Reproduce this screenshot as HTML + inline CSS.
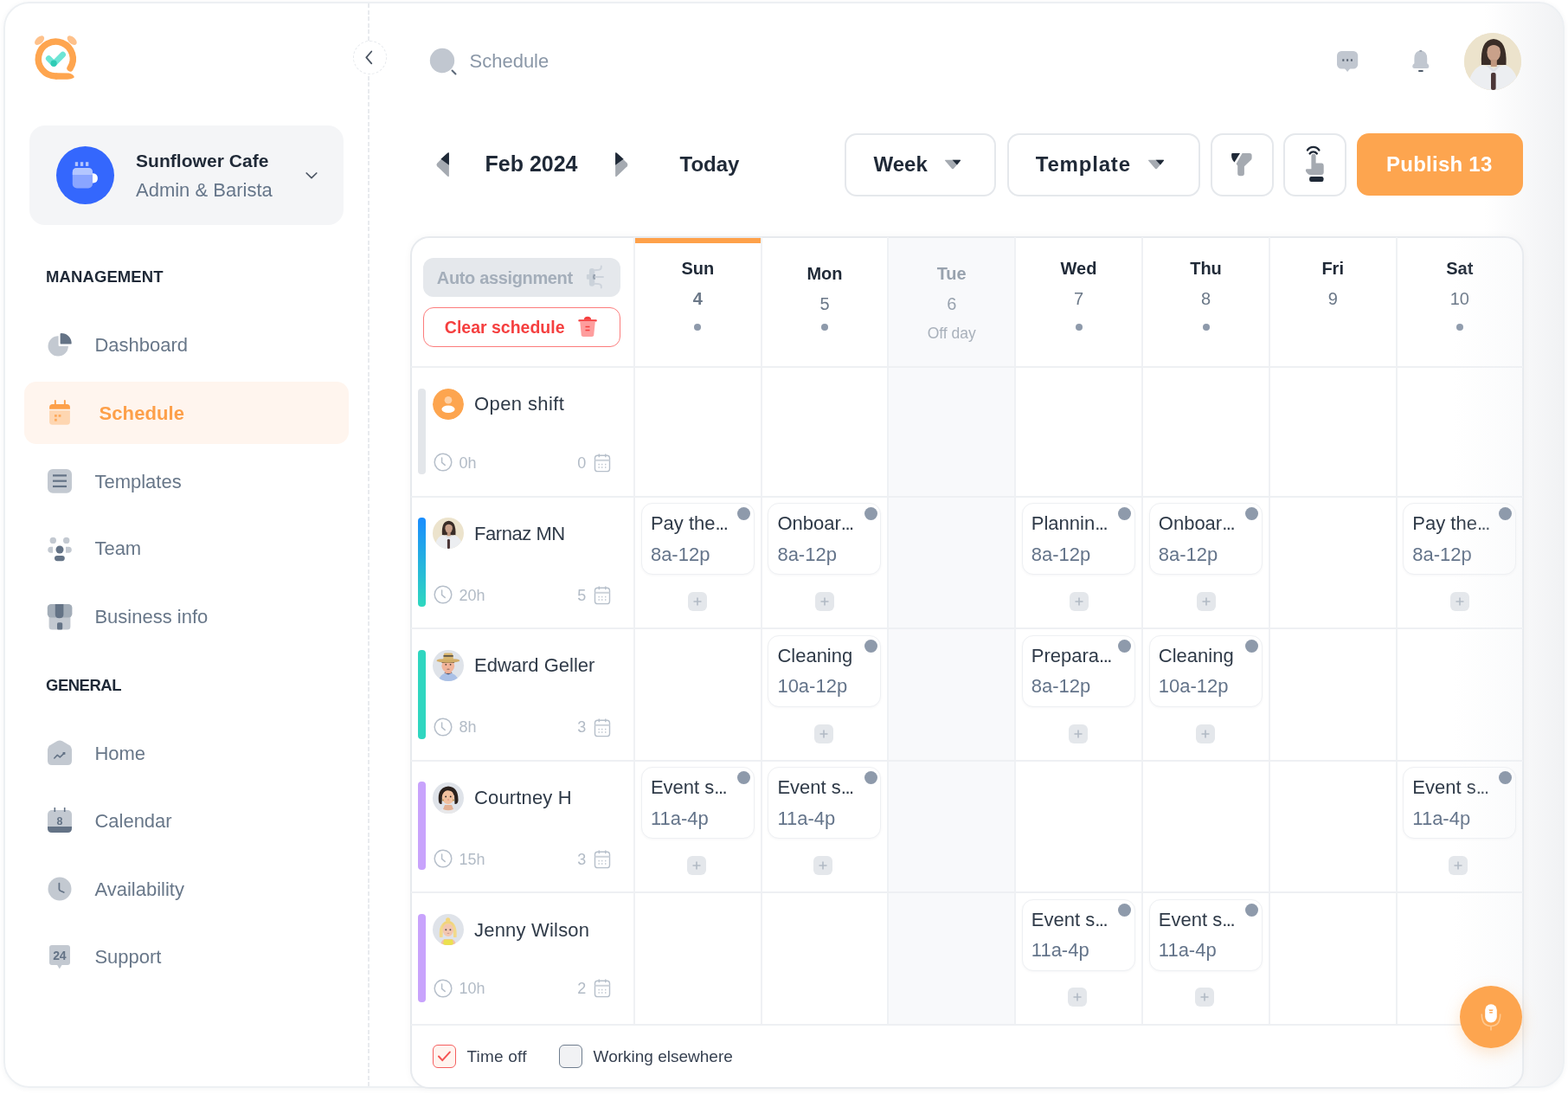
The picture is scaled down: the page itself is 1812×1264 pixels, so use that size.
<!DOCTYPE html>
<html><head><meta charset="utf-8"><title>Schedule</title>
<style>
html,body{margin:0;padding:0}
body{width:1812px;height:1264px;position:relative;overflow:hidden;background:#fff;font-family:"Liberation Sans",sans-serif}
.a{position:absolute}
.t{position:absolute;white-space:nowrap;line-height:1}
.el{letter-spacing:-1.5px}
.frame{position:absolute;left:4px;top:2px;width:1804px;height:1255px;box-sizing:border-box;border:2px solid #edf0f3;border-radius:30px;
background:linear-gradient(90deg,#ffffff 0,#ffffff 1709px,#f1f2f4 1799px);box-shadow:0 1px 6px rgba(40,50,70,0.05)}
svg{overflow:visible}
</style></head><body>
<div class="frame"></div>
<div class="a" style="left:425.2px;top:4px;width:1.8px;height:1252px;background:repeating-linear-gradient(to bottom,#e8ebee 0,#e8ebee 5px,transparent 5px,transparent 7.6px)"></div>
<div class="a" style="left:407.5px;top:47px;width:37px;height:37px;border-radius:50%;border:1px dashed #e6e9ed;background:#fff"></div>
<svg class="a" style="left:420px;top:58px" width="14" height="18" viewBox="0 0 14 18"><path d="M9.3 1.5 L3.3 8.3 L9.3 15.3" fill="none" stroke="#4b5563" stroke-width="1.8" stroke-linecap="round" stroke-linejoin="round"/></svg>
<svg class="a" style="left:36px;top:36px" width="60" height="60" viewBox="0 0 60 60">
<g transform="translate(-36,-36)">
<ellipse cx="45.6" cy="46.6" rx="6.6" ry="3.9" transform="rotate(-42 45.6 46.6)" fill="#fec18b"/>
<ellipse cx="83.2" cy="46.6" rx="6.6" ry="3.9" transform="rotate(42 83.2 46.6)" fill="#fec18b"/>
<path d="M81.07 78.9 A20 20 0 1 0 64.3 88" fill="none" stroke="#fea54f" stroke-width="7.5" stroke-linecap="round"/>
<path d="M64.3 84.25 L79.5 84.4 Q83.5 84.8 85.6 88.2 Q86.2 89.6 84.6 90.3 Q82 91.75 78 91.75 L64.3 91.75 Z" fill="#fea54f"/>
<path d="M56.3 67.6 L62.2 73.6 L72.6 63.2" fill="none" stroke="#6de5d5" stroke-width="6.8" stroke-linecap="round" stroke-linejoin="round"/>
<circle cx="62.1" cy="73.2" r="3.6" fill="#2fcbb4"/>
</g></svg>
<div class="a" style="left:34px;top:145px;width:363px;height:115px;background:#f4f5f7;border-radius:18px"></div>
<div class="a" style="left:65px;top:169px;width:67px;height:67px;border-radius:50%;background:#3467fd"></div>
<svg class="a" style="left:82px;top:185px" width="34" height="34" viewBox="0 0 34 34">
<g transform="translate(-82,-185)">
<rect x="86.8" y="187.2" width="3.3" height="4.7" fill="#b4c5fd"/>
<rect x="92.9" y="187.2" width="3.3" height="4.7" fill="#b4c5fd"/>
<rect x="99" y="187.2" width="3.3" height="4.7" fill="#b4c5fd"/>
<path d="M106 200.2 L107.5 200.2 Q112.9 200.8 112.9 205.9 Q112.9 211 107.5 211.6 L106 211.6 Z" fill="#ffffff"/>
<rect x="83.8" y="194" width="23.2" height="23.5" rx="5" fill="#8aa5ff"/>
<path d="M83.8 202 L83.8 199 Q83.8 194 88.8 194 L102 194 Q107 194 107 199 L107 202 Z" fill="#b3c6ff"/>
</g></svg>
<div class="t " style="left:157.0px;top:175.00px;font-size:21px;color:#1f2937;font-weight:700;letter-spacing:0.05px">Sunflower Cafe</div>
<div class="t " style="left:157.0px;top:209.00px;font-size:22px;color:#66768a;font-weight:400;">Admin &amp; Barista</div>
<svg class="a" style="left:352px;top:197px" width="16" height="11" viewBox="0 0 16 11"><path d="M2.2 3 L8 8.6 L13.8 3" fill="none" stroke="#4b5563" stroke-width="1.7" stroke-linecap="round" stroke-linejoin="round"/></svg>
<div class="t " style="left:53.0px;top:311.00px;font-size:18.5px;color:#1f2937;font-weight:700;letter-spacing:0.1px">MANAGEMENT</div>
<div class="t " style="left:53.0px;top:783.00px;font-size:18.5px;color:#1f2937;font-weight:700;letter-spacing:-0.5px">GENERAL</div>
<div class="a" style="left:28px;top:441px;width:375px;height:72px;background:#fff5ee;border-radius:14px"></div>
<div class="t " style="left:109.4px;top:388.00px;font-size:22px;color:#687789;font-weight:400;">Dashboard</div>
<div class="t " style="left:114.5px;top:467.00px;font-size:22px;color:#fda04a;font-weight:700;letter-spacing:0.1px">Schedule</div>
<div class="t " style="left:109.4px;top:546.00px;font-size:22px;color:#687789;font-weight:400;">Templates</div>
<div class="t " style="left:109.4px;top:623.00px;font-size:22px;color:#687789;font-weight:400;">Team</div>
<div class="t " style="left:109.4px;top:702.00px;font-size:22px;color:#687789;font-weight:400;">Business info</div>
<div class="t " style="left:109.4px;top:860.00px;font-size:22px;color:#687789;font-weight:400;">Home</div>
<div class="t " style="left:109.4px;top:938.00px;font-size:22px;color:#687789;font-weight:400;">Calendar</div>
<div class="t " style="left:109.4px;top:1017.00px;font-size:22px;color:#687789;font-weight:400;">Availability</div>
<div class="t " style="left:109.4px;top:1095.00px;font-size:22px;color:#687789;font-weight:400;">Support</div>
<svg class="a" style="left:52px;top:382px" width="34" height="34" viewBox="0 0 34 34"><g transform="translate(-52,-382)">
<path d="M67.6 388.2 A11.7 11.7 0 1 0 78.9 400 L68.8 400 Q67.6 400 67.6 398.8 Z" fill="#c3c9d1"/>
<path d="M69.6 396.4 L69.6 386.1 Q69.6 384.9 70.8 384.9 A11.8 11.8 0 0 1 82.7 396.4 Q82.7 397.6 81.5 397.6 L70.8 397.6 Q69.6 397.6 69.6 396.4 Z" fill="#647386"/>
</g></svg>
<svg class="a" style="left:52px;top:458px" width="34" height="36" viewBox="0 0 34 36"><g transform="translate(-52,-458)">
<path d="M57.1 472.7 L57.1 470.5 Q57.1 467 60.6 467 L77.4 467 Q80.9 467 80.9 470.5 L80.9 472.7 Z" fill="#fda04a"/>
<path d="M57.1 474.2 L80.9 474.2 L80.9 487.3 Q80.9 490.8 77.4 490.8 L60.6 490.8 Q57.1 490.8 57.1 487.3 Z" fill="#fed6b1"/>
<rect x="62.9" y="462" width="1.9" height="6" rx="0.9" fill="#fda04a"/>
<rect x="73.9" y="462" width="1.9" height="6" rx="0.9" fill="#fda04a"/>
<rect x="63" y="479" width="2.8" height="2.8" fill="#fdab5e"/>
<rect x="67.6" y="479" width="2.8" height="2.8" fill="#fdab5e"/>
<rect x="63" y="483.8" width="2.8" height="2.8" fill="#fdab5e"/>
</g></svg>
<svg class="a" style="left:52px;top:538px" width="34" height="36" viewBox="0 0 34 36"><g transform="translate(-52,-538)">
<rect x="55" y="542" width="28" height="27.8" rx="6" fill="#c3c9d1"/>
<rect x="61" y="548.3" width="16" height="2.2" fill="#647386"/>
<rect x="61" y="554.6" width="16" height="2.2" fill="#647386"/>
<rect x="61" y="560.9" width="16" height="2.2" fill="#647386"/>
</g></svg>
<svg class="a" style="left:52px;top:616px" width="34" height="38" viewBox="0 0 34 38"><g transform="translate(-52,-616)">
<circle cx="61.3" cy="624.4" r="3.7" fill="#c3c9d1"/>
<circle cx="76.7" cy="624.4" r="3.7" fill="#c3c9d1"/>
<path d="M61.1 631.8 L58.6 631.8 Q55.3 632 55.3 635.25 Q55.3 638.5 58.6 638.7 L61.1 638.7 Z" fill="#c3c9d1"/>
<path d="M76 631.8 L79.5 631.8 Q82.8 632 82.8 635.25 Q82.8 638.5 79.5 638.7 L76 638.7 Z" fill="#c3c9d1"/>
<circle cx="69" cy="635" r="4.5" fill="#647386"/>
<rect x="63" y="641.9" width="11.8" height="6.3" rx="3.1" fill="#647386"/>
</g></svg>
<svg class="a" style="left:52px;top:694px" width="34" height="36" viewBox="0 0 34 36"><g transform="translate(-52,-694)">
<rect x="56.6" y="708" width="24.8" height="19.6" rx="3.5" fill="#c3c9d1"/>
<rect x="54.8" y="698" width="28.6" height="15.4" rx="4.2" fill="#a3adb8"/>
<path d="M63.8 698 L73.4 698 L73.4 710 Q73.4 714.2 68.6 714.2 Q63.8 714.2 63.8 710 Z" fill="#647386"/>
<rect x="66" y="719.2" width="6.2" height="8.4" rx="1.6" fill="#647386"/>
</g></svg>
<svg class="a" style="left:52px;top:852px" width="34" height="36" viewBox="0 0 34 36"><g transform="translate(-52,-852)">
<path d="M55 866 Q55 863 57.5 861.2 L66 856.3 Q69 854.8 72 856.3 L80.5 861.2 Q83 863 83 866 L83 879 Q83 884 78 884 L60 884 Q55 884 55 879 Z" fill="#c3c9d1"/>
<path d="M62.8 876 L66.3 872.4 L69.3 874.8 L74 870.4" fill="none" stroke="#647386" stroke-width="1.6" stroke-linecap="round" stroke-linejoin="round"/>
<rect x="72.6" y="869" width="2.8" height="2.8" fill="#647386"/>
</g></svg>
<svg class="a" style="left:52px;top:930px" width="34" height="36" viewBox="0 0 34 36"><g transform="translate(-52,-930)">
<rect x="55" y="936" width="28" height="26" rx="5" fill="#c3c9d1"/>
<path d="M55 955 L83 955 L83 957 Q83 962 78 962 L60 962 Q55 962 55 957 Z" fill="#647386"/>
<rect x="62.5" y="933" width="1.6" height="5" fill="#647386"/>
<rect x="73.9" y="933" width="1.6" height="5" fill="#647386"/>
<text x="68.9" y="953.2" font-family="Liberation Sans, sans-serif" font-size="12.5" font-weight="700" fill="#647386" text-anchor="middle">8</text>
</g></svg>
<svg class="a" style="left:52px;top:1010px" width="34" height="36" viewBox="0 0 34 36"><g transform="translate(-52,-1010)">
<circle cx="69" cy="1027" r="13.5" fill="#c3c9d1"/>
<path d="M68.4 1020.6 L68.4 1027.4 Q68.6 1028.6 69.8 1029.2 L73.8 1031" fill="none" stroke="#647386" stroke-width="1.8" stroke-linecap="round" stroke-linejoin="round"/>
</g></svg>
<svg class="a" style="left:52px;top:1088px" width="34" height="36" viewBox="0 0 34 36"><g transform="translate(-52,-1088)">
<rect x="57" y="1092" width="24" height="23" rx="3" fill="#c3c9d1"/>
<path d="M65.5 1114 L68.8 1119.5 L72.1 1114 Z" fill="#c3c9d1"/>
<text x="68.8" y="1109" font-family="Liberation Sans, sans-serif" font-size="14" font-weight="700" fill="#647386" text-anchor="middle" letter-spacing="-0.3">24</text>
</g></svg>
<svg class="a" style="left:494px;top:53px" width="36" height="36" viewBox="0 0 36 36"><g transform="translate(-494,-53)">
<circle cx="511" cy="70" r="14.2" fill="#c1c7d0"/>
<path d="M522.5 81.5 L526.5 85.5" stroke="#5b6878" stroke-width="2" stroke-linecap="round"/>
</g></svg>
<div class="t " style="left:542.5px;top:60.00px;font-size:22px;color:#8a97a7;font-weight:400;">Schedule</div>
<svg class="a" style="left:1540px;top:54px" width="34" height="32" viewBox="0 0 34 32"><g transform="translate(-1540,-54)">
<rect x="1545" y="59" width="24.2" height="20.4" rx="5.2" fill="#c1c7d0"/>
<path d="M1553.8 79 L1557.1 83 L1560.4 79 Z" fill="#c1c7d0"/>
<rect x="1551.3" y="68.3" width="2" height="2.4" fill="#55606e"/>
<rect x="1556.1" y="68.3" width="2" height="2.4" fill="#55606e"/>
<rect x="1560.9" y="68.3" width="2" height="2.4" fill="#55606e"/>
</g></svg>
<svg class="a" style="left:1628px;top:54px" width="28" height="32" viewBox="0 0 28 32"><g transform="translate(-1628,-54)">
<path d="M1641.7 58.3 Q1649.2 59.2 1649.2 67.5 L1649.2 73.2 Q1651.4 74.4 1651.4 76.7 Q1651.4 79 1649 79 L1634.6 79 Q1632.2 79 1632.2 76.7 Q1632.2 74.4 1634.4 73.2 L1634.4 67.5 Q1634.4 59.2 1641.7 58.3 Z" fill="#c1c7d0"/>
<rect x="1639" y="81" width="5.8" height="2" rx="1" fill="#4f5b6a"/>
<rect x="1640.3" y="58" width="3" height="1.8" rx="0.9" fill="#9aa3ae"/>
</g></svg>
<div class="a" style="left:1692px;top:38px;width:66px;height:66px;border-radius:50%;overflow:hidden;background:#ede3cc">
<svg width="66" height="66" viewBox="0 0 66 66">
<rect width="66" height="66" fill="#ece3cc"/>
<path d="M20 37 Q18 8 34 7 Q50 8 48.5 37 Z" fill="#3a2d27"/>
<ellipse cx="34.2" cy="22.5" rx="7.8" ry="10.5" fill="#c9a18a"/>
<path d="M26.4 18 Q34 10 42 18 L42 13 Q34 8 26.4 13 Z" fill="#3a2d27"/>
<rect x="30.8" y="31" width="7" height="8" fill="#bf977f"/>
<path d="M4 66 Q6 42 21 37 L34 41 L47 37 Q62 42 63 66 Z" fill="#eceef1"/>
<path d="M26 38 L34 46 L42 38 L40 37 L34 42 L28 37 Z" fill="#dcdfe4"/>
<rect x="31" y="46" width="5.6" height="20" rx="2" fill="#4b3637"/>
</svg></div>
<svg class="a" style="left:500px;top:172px" width="24" height="36" viewBox="0 0 24 36"><g transform="translate(-500,-172)">
<path d="M518.9 177.8 Q518.9 175.3 517 177.1 L505.3 188.4 Q503.8 190.3 505.3 192.2 L517 203.4 Q518.9 205.2 518.9 202.7 Z" fill="#a5aab1"/>
<path d="M518.9 177.8 Q518.9 175.3 517 177.1 L509.4 183.8 L518.9 190.7 Z" fill="#1f2937"/>
</g></svg>
<svg class="a" style="left:706px;top:172px" width="24" height="36" viewBox="0 0 24 36"><g transform="translate(-706,-172)">
<path d="M711.1 177.8 Q711.1 175.3 713 177.1 L724.7 188.4 Q726.2 190.3 724.7 192.2 L713 203.4 Q711.1 205.2 711.1 202.7 Z" fill="#a5aab1"/>
<path d="M711.1 177.8 Q711.1 175.3 713 177.1 L720.6 183.8 L711.1 190.7 Z" fill="#1f2937"/>
</g></svg>
<div class="t " style="left:560.5px;top:177.00px;font-size:25px;color:#1f2937;font-weight:700;">Feb 2024</div>
<div class="t " style="left:785.5px;top:178.00px;font-size:24px;color:#1f2937;font-weight:700;">Today</div>
<div class="a" style="left:976px;top:154px;width:175px;height:72.5px;border:2px solid #e5e8ec;border-radius:14px;box-sizing:border-box;background:#fff;"></div>
<div class="a" style="left:1163.5px;top:154px;width:223px;height:72.5px;border:2px solid #e5e8ec;border-radius:14px;box-sizing:border-box;background:#fff;"></div>
<div class="a" style="left:1398.5px;top:154px;width:73px;height:72.5px;border:2px solid #e5e8ec;border-radius:14px;box-sizing:border-box;background:#fff;"></div>
<div class="a" style="left:1483px;top:154px;width:72.5px;height:72.5px;border:2px solid #e5e8ec;border-radius:14px;box-sizing:border-box;background:#fff;"></div>
<div class="a" style="left:1568px;top:154.3px;width:192px;height:72px;background:#fda54f;border-radius:14px"></div>
<div class="t " style="left:1009.5px;top:178.00px;font-size:24px;color:#1f2937;font-weight:700;">Week</div>
<div class="t " style="left:1196.8px;top:178.00px;font-size:24px;color:#1f2937;font-weight:700;letter-spacing:0.8px">Template</div>
<div class="t " style="left:1602.0px;top:178.00px;font-size:24px;color:#ffffff;font-weight:700;letter-spacing:0.25px">Publish 13</div>
<svg class="a" style="left:1090px;top:183.5px" width="22" height="14" viewBox="0 0 22 14"><path d="M2.6 0.8 L19.4 0.8 Q20.6 0.8 19.8 1.8 L11.9 10.9 Q11 11.8 10.1 10.9 L2.2 1.8 Q1.4 0.8 2.6 0.8 Z" fill="#a5aab1"/><path d="M10.6 0.8 L19.4 0.8 Q20.6 0.8 19.8 1.8 L15.9 6.4 Z" fill="#1f2937"/></svg>
<svg class="a" style="left:1324.7px;top:183.5px" width="22" height="14" viewBox="0 0 22 14"><path d="M2.6 0.8 L19.4 0.8 Q20.6 0.8 19.8 1.8 L11.9 10.9 Q11 11.8 10.1 10.9 L2.2 1.8 Q1.4 0.8 2.6 0.8 Z" fill="#a5aab1"/><path d="M10.6 0.8 L19.4 0.8 Q20.6 0.8 19.8 1.8 L15.9 6.4 Z" fill="#1f2937"/></svg>
<svg class="a" style="left:1418px;top:172px" width="32" height="36" viewBox="0 0 32 36"><g transform="translate(-1418,-172)">
<path d="M1435.6 177 L1444 177 Q1446.6 177 1446.6 179.6 L1446.6 182.5 Q1446.6 184 1445.5 185 L1437.9 192.3 L1437.9 200.5 Q1437.9 203.3 1435 203.3 L1433 203.3 Q1430.2 203.3 1430.2 200.5 L1430.2 191.5 L1428.6 189.2 Z" fill="#a5aab1"/>
<path d="M1423.8 177 L1433 177 L1426.5 187.6 Q1423.1 184 1423.1 179.5 Q1423.1 177 1423.8 177 Z" fill="#1f2937"/>
</g></svg>
<svg class="a" style="left:1503px;top:164px" width="32" height="50" viewBox="0 0 32 50"><g transform="translate(-1503,-164)">
<path d="M1511 173.4 A8 8 0 0 1 1524.3 173.4" fill="none" stroke="#1f2937" stroke-width="2.4" stroke-linecap="round"/>
<path d="M1513.6 177.4 A5.2 5.2 0 0 1 1521.8 177.4" fill="none" stroke="#1f2937" stroke-width="2.4" stroke-linecap="round"/>
<path d="M1515.4 180 Q1515.4 177.8 1518 177.8 Q1520.6 177.8 1520.6 180 L1520.6 188.4 L1527.4 188.6 Q1529.7 188.8 1529.7 191.2 L1529.7 199 Q1529.7 202 1526.7 202 L1514.5 202 Q1512.5 202 1511 200.5 L1509.4 198.5 Q1508.8 197.6 1508.9 196.5 Q1509 195.3 1510.3 195.3 L1515.4 195.3 Z" fill="#a5aab1"/>
<rect x="1513.1" y="204" width="16.4" height="5.9" rx="2.2" fill="#1f2937"/>
</g></svg>
<div class="a" style="left:473.7px;top:273px;width:1287.8px;height:985px;border:2px solid #e7eaee;border-radius:22px;background:#fff;box-sizing:border-box;box-shadow:0 0 10px rgba(30,40,60,0.035)"></div>
<div class="a" style="left:1027.3px;top:275px;width:144.70000000000005px;height:908.5px;background:#f8f9fb"></div>
<div class="a" style="left:734.1px;top:275px;width:144.5px;height:5.5px;background:#fea14a"></div>
<div class="a" style="left:732.1px;top:274px;width:2px;height:909.5px;background:#eff1f4"></div>
<div class="a" style="left:878.6px;top:274px;width:2px;height:909.5px;background:#eff1f4"></div>
<div class="a" style="left:1025.3px;top:274px;width:2px;height:909.5px;background:#eff1f4"></div>
<div class="a" style="left:1172px;top:274px;width:2px;height:909.5px;background:#eff1f4"></div>
<div class="a" style="left:1319px;top:274px;width:2px;height:909.5px;background:#eff1f4"></div>
<div class="a" style="left:1466px;top:274px;width:2px;height:909.5px;background:#eff1f4"></div>
<div class="a" style="left:1612.5px;top:274px;width:2px;height:909.5px;background:#eff1f4"></div>
<div class="a" style="left:474.7px;top:422.5px;width:1285.8px;height:2px;background:#eef0f3"></div>
<div class="a" style="left:474.7px;top:572.8px;width:1285.8px;height:2px;background:#eef0f3"></div>
<div class="a" style="left:474.7px;top:725.3px;width:1285.8px;height:2px;background:#eef0f3"></div>
<div class="a" style="left:474.7px;top:877.9px;width:1285.8px;height:2px;background:#eef0f3"></div>
<div class="a" style="left:474.7px;top:1030.2px;width:1285.8px;height:2px;background:#eef0f3"></div>
<div class="a" style="left:474.7px;top:1182.5px;width:1285.8px;height:2px;background:#eef0f3"></div>
<div class="a" style="left:489px;top:298px;width:228px;height:45px;background:#e5e8ec;border-radius:12px"></div>
<div class="t " style="left:504.8px;top:311.00px;font-size:20px;color:#a4aeba;font-weight:700;letter-spacing:-0.35px">Auto assignment</div>
<svg class="a" style="left:674px;top:304px" width="28" height="32" viewBox="0 0 28 32"><g transform="translate(-674,-304)">
<rect x="680.9" y="310.1" width="6.3" height="20.6" rx="3" fill="#cbd2da"/>
<rect x="677.9" y="317.1" width="4" height="5.7" rx="1" fill="#cbd2da"/>
<path d="M685.6 317.1 L688 317.1 L688 322.8 L685.6 322.8 Q684.2 320 685.6 317.1Z" fill="#98a3b0"/>
<path d="M687 312.2 L692 311.8 Q694.8 311.5 694.8 308.8 L694.8 307.4" stroke="#cdd3db" stroke-width="1.9" fill="none" stroke-linecap="round"/>
<path d="M688 319.95 L697 319.95" stroke="#cdd3db" stroke-width="1.9" stroke-linecap="round"/>
<path d="M687 327.7 L692 328.1 Q694.8 328.4 694.8 331.1 L694.8 332.6" stroke="#cdd3db" stroke-width="1.9" fill="none" stroke-linecap="round"/>
</g></svg>
<div class="a" style="left:489px;top:355px;width:228px;height:45.5px;border:1.5px solid #fc7c7c;border-radius:12px;box-sizing:border-box"></div>
<div class="t " style="left:513.8px;top:369.00px;font-size:19.5px;color:#f53f3f;font-weight:700;">Clear schedule</div>
<svg class="a" style="left:664px;top:362px" width="30" height="30" viewBox="0 0 30 30"><g transform="translate(-664,-362)">
<path d="M670.3 372 L687.8 372 L686.2 387.2 Q686 389 684 389 L674 389 Q672 389 671.8 387.2 Z" fill="#fe9d9d"/>
<rect x="668.3" y="369.2" width="21.5" height="2.2" rx="1" fill="#f53f3f"/>
<path d="M674.8 369.5 Q674.8 365.7 679 365.7 Q683.2 365.7 683.2 369.5 Z" fill="#f53f3f"/>
<rect x="676.5" y="376.8" width="5" height="1.5" fill="#f53f3f"/>
<rect x="676.5" y="380.8" width="5" height="1.5" fill="#f53f3f"/>
</g></svg>
<div class="t" style="left:736.4px;width:140px;text-align:center;top:300.00px;font-size:20px;color:#1f2937;font-weight:700;">Sun</div>
<div class="t" style="left:736.4px;width:140px;text-align:center;top:335.00px;font-size:20px;color:#6b7888;font-weight:700;">4</div>
<div class="a" style="left:802.4px;top:374.3px;width:8px;height:8px;border-radius:50%;background:#8e9aab"></div>
<div class="t" style="left:883.0px;width:140px;text-align:center;top:306.00px;font-size:20px;color:#1f2937;font-weight:700;">Mon</div>
<div class="t" style="left:883.0px;width:140px;text-align:center;top:341.00px;font-size:20px;color:#6b7888;font-weight:400;">5</div>
<div class="a" style="left:949.0px;top:374.3px;width:8px;height:8px;border-radius:50%;background:#8e9aab"></div>
<div class="t" style="left:1029.7px;width:140px;text-align:center;top:306.00px;font-size:20px;color:#98a2ae;font-weight:700;">Tue</div>
<div class="t" style="left:1029.7px;width:140px;text-align:center;top:341.00px;font-size:20px;color:#98a2ae;font-weight:400;">6</div>
<div class="t" style="left:1029.7px;width:140px;text-align:center;top:377.00px;font-size:17.5px;color:#a9b1bb;font-weight:400;">Off day</div>
<div class="t" style="left:1176.5px;width:140px;text-align:center;top:300.00px;font-size:20px;color:#1f2937;font-weight:700;">Wed</div>
<div class="t" style="left:1176.5px;width:140px;text-align:center;top:335.00px;font-size:20px;color:#6b7888;font-weight:400;">7</div>
<div class="a" style="left:1242.5px;top:374.3px;width:8px;height:8px;border-radius:50%;background:#8e9aab"></div>
<div class="t" style="left:1323.5px;width:140px;text-align:center;top:300.00px;font-size:20px;color:#1f2937;font-weight:700;">Thu</div>
<div class="t" style="left:1323.5px;width:140px;text-align:center;top:335.00px;font-size:20px;color:#6b7888;font-weight:400;">8</div>
<div class="a" style="left:1389.5px;top:374.3px;width:8px;height:8px;border-radius:50%;background:#8e9aab"></div>
<div class="t" style="left:1470.2px;width:140px;text-align:center;top:300.00px;font-size:20px;color:#1f2937;font-weight:700;">Fri</div>
<div class="t" style="left:1470.2px;width:140px;text-align:center;top:335.00px;font-size:20px;color:#6b7888;font-weight:400;">9</div>
<div class="t" style="left:1616.8px;width:140px;text-align:center;top:300.00px;font-size:20px;color:#1f2937;font-weight:700;">Sat</div>
<div class="t" style="left:1616.8px;width:140px;text-align:center;top:335.00px;font-size:20px;color:#6b7888;font-weight:400;">10</div>
<div class="a" style="left:1682.8px;top:374.3px;width:8px;height:8px;border-radius:50%;background:#8e9aab"></div>
<div class="a" style="left:483.2px;top:449px;width:8.4px;height:98.79999999999995px;background:#e3e6ea;border-radius:4.1px"></div>
<div class="a" style="left:499.7px;top:449.0px;width:36px;height:36px;border-radius:50%;overflow:hidden"><svg width="36" height="36"><circle cx="18" cy="18" r="18" fill="#fda54f"/><circle cx="18" cy="13.2" r="4.3" fill="#fed0a4"/><ellipse cx="18" cy="23.8" rx="7.6" ry="4.3" fill="#fff"/></svg></div>
<div class="t " style="left:548.0px;top:456.00px;font-size:22px;color:#2f3a48;font-weight:400;letter-spacing:0.4px">Open shift</div>
<svg class="a" style="left:499.6px;top:522.4px" width="24" height="24" viewBox="0 0 24 24"><circle cx="12" cy="12" r="9.8" fill="none" stroke="#b6bfca" stroke-width="1.5"/><path d="M10.6 7 L10.6 12.4 L14.2 15.4" fill="none" stroke="#b6bfca" stroke-width="1.5" stroke-linecap="round" stroke-linejoin="round"/></svg>
<div class="t " style="left:530.4px;top:526.00px;font-size:18px;color:#b2bbc6;font-weight:400;">0h</div>
<div class="t " style="left:667.2px;top:526.00px;font-size:18px;color:#b2bbc6;font-weight:400;">0</div>
<svg class="a" style="left:684.8px;top:523.9px" width="22" height="22" viewBox="0 0 22 22"><rect x="2.5" y="2.3" width="17" height="18.3" rx="3.2" fill="none" stroke="#b6bfca" stroke-width="1.4"/>
<rect x="2.5" y="6.8" width="17" height="2" fill="#cdd3da"/>
<path d="M7.3 0.4 L7.3 4.3 M14.8 0.4 L14.8 4.3" stroke="#b6bfca" stroke-width="1.4"/><rect x="6.5" y="11.8" width="1.3" height="1.6" fill="#bcc4ce"/><rect x="6.5" y="15.2" width="1.3" height="1.6" fill="#bcc4ce"/><rect x="10.1" y="11.8" width="1.3" height="1.6" fill="#bcc4ce"/><rect x="10.1" y="15.2" width="1.3" height="1.6" fill="#bcc4ce"/><rect x="14.1" y="11.8" width="1.3" height="1.6" fill="#bcc4ce"/><rect x="14.1" y="15.2" width="1.3" height="1.6" fill="#bcc4ce"/></svg>
<div class="a" style="left:483.2px;top:598px;width:8.4px;height:102.60000000000002px;background:linear-gradient(#1a8dfe,#2fd8bf);border-radius:4.1px"></div>
<div class="a" style="left:499.7px;top:598.3px;width:36px;height:36px;border-radius:50%;overflow:hidden"><svg width="36" height="36" viewBox="0 0 66 66">
<rect width="66" height="66" fill="#ece3cc"/>
<path d="M20 37 Q18 8 34 7 Q50 8 48.5 37 Z" fill="#3a2d27"/>
<ellipse cx="34.2" cy="22.5" rx="7.8" ry="10.5" fill="#c9a18a"/>
<path d="M26.4 18 Q34 10 42 18 L42 13 Q34 8 26.4 13 Z" fill="#3a2d27"/>
<rect x="30.8" y="31" width="7" height="8" fill="#bf977f"/>
<path d="M4 66 Q6 42 21 37 L34 41 L47 37 Q62 42 63 66 Z" fill="#eceef1"/>
<path d="M26 38 L34 46 L42 38 L40 37 L34 42 L28 37 Z" fill="#dcdfe4"/>
<rect x="31" y="46" width="5.6" height="20" rx="2" fill="#4b3637"/>
</svg></div>
<div class="t " style="left:548.0px;top:606.00px;font-size:22px;color:#2f3a48;font-weight:400;letter-spacing:-0.45px">Farnaz MN</div>
<svg class="a" style="left:499.6px;top:675.2px" width="24" height="24" viewBox="0 0 24 24"><circle cx="12" cy="12" r="9.8" fill="none" stroke="#b6bfca" stroke-width="1.5"/><path d="M10.6 7 L10.6 12.4 L14.2 15.4" fill="none" stroke="#b6bfca" stroke-width="1.5" stroke-linecap="round" stroke-linejoin="round"/></svg>
<div class="t " style="left:530.4px;top:679.00px;font-size:18px;color:#b2bbc6;font-weight:400;">20h</div>
<div class="t " style="left:667.2px;top:679.00px;font-size:18px;color:#b2bbc6;font-weight:400;">5</div>
<svg class="a" style="left:684.8px;top:676.7px" width="22" height="22" viewBox="0 0 22 22"><rect x="2.5" y="2.3" width="17" height="18.3" rx="3.2" fill="none" stroke="#b6bfca" stroke-width="1.4"/>
<rect x="2.5" y="6.8" width="17" height="2" fill="#cdd3da"/>
<path d="M7.3 0.4 L7.3 4.3 M14.8 0.4 L14.8 4.3" stroke="#b6bfca" stroke-width="1.4"/><rect x="6.5" y="11.8" width="1.3" height="1.6" fill="#bcc4ce"/><rect x="6.5" y="15.2" width="1.3" height="1.6" fill="#bcc4ce"/><rect x="10.1" y="11.8" width="1.3" height="1.6" fill="#bcc4ce"/><rect x="10.1" y="15.2" width="1.3" height="1.6" fill="#bcc4ce"/><rect x="14.1" y="11.8" width="1.3" height="1.6" fill="#bcc4ce"/><rect x="14.1" y="15.2" width="1.3" height="1.6" fill="#bcc4ce"/></svg>
<div class="a" style="left:483.2px;top:751.2px;width:8.4px;height:102.39999999999998px;background:#2fd6c0;border-radius:4.1px"></div>
<div class="a" style="left:499.7px;top:750.8px;width:36px;height:36px;border-radius:50%;overflow:hidden"><svg width="36" height="36"><rect width="36" height="36" fill="#dfe3e9"/>
<path d="M7 36 Q8 27 18 26 Q28 27 30 36 Z" fill="#aac0e6"/><path d="M13.5 26.5 L18 28.5 L22.5 26.5 L22 25.5 L14 25.5 Z" fill="#4c5a78"/>
<rect x="14.5" y="22" width="7" height="5" fill="#e9a58c"/>
<ellipse cx="17.8" cy="18.2" rx="7.4" ry="7.8" fill="#f1b49a"/>
<rect x="10.5" y="11.2" width="14.6" height="3.6" fill="#3f3229"/>
<circle cx="15.3" cy="16.8" r="0.9" fill="#4a3a32"/><circle cx="20.6" cy="16.8" r="0.9" fill="#4a3a32"/>
<ellipse cx="18" cy="22.2" rx="1.8" ry="0.8" fill="#a0766a"/>
<ellipse cx="17.9" cy="12.3" rx="13.3" ry="2.4" fill="#d2ad68"/>
<path d="M12.2 11 L12.8 5 Q13 3.6 15 3.6 L21 3.6 Q23 3.6 23.2 5 L24 11 Z" fill="#d8b670"/>
<rect x="12.5" y="6" width="11.2" height="1.8" fill="#5d5547"/>
</svg></div>
<div class="t " style="left:548.0px;top:758.00px;font-size:22px;color:#2f3a48;font-weight:400;letter-spacing:0px">Edward Geller</div>
<svg class="a" style="left:499.6px;top:828.0px" width="24" height="24" viewBox="0 0 24 24"><circle cx="12" cy="12" r="9.8" fill="none" stroke="#b6bfca" stroke-width="1.5"/><path d="M10.6 7 L10.6 12.4 L14.2 15.4" fill="none" stroke="#b6bfca" stroke-width="1.5" stroke-linecap="round" stroke-linejoin="round"/></svg>
<div class="t " style="left:530.4px;top:831.00px;font-size:18px;color:#b2bbc6;font-weight:400;">8h</div>
<div class="t " style="left:667.2px;top:831.00px;font-size:18px;color:#b2bbc6;font-weight:400;">3</div>
<svg class="a" style="left:684.8px;top:829.5px" width="22" height="22" viewBox="0 0 22 22"><rect x="2.5" y="2.3" width="17" height="18.3" rx="3.2" fill="none" stroke="#b6bfca" stroke-width="1.4"/>
<rect x="2.5" y="6.8" width="17" height="2" fill="#cdd3da"/>
<path d="M7.3 0.4 L7.3 4.3 M14.8 0.4 L14.8 4.3" stroke="#b6bfca" stroke-width="1.4"/><rect x="6.5" y="11.8" width="1.3" height="1.6" fill="#bcc4ce"/><rect x="6.5" y="15.2" width="1.3" height="1.6" fill="#bcc4ce"/><rect x="10.1" y="11.8" width="1.3" height="1.6" fill="#bcc4ce"/><rect x="10.1" y="15.2" width="1.3" height="1.6" fill="#bcc4ce"/><rect x="14.1" y="11.8" width="1.3" height="1.6" fill="#bcc4ce"/><rect x="14.1" y="15.2" width="1.3" height="1.6" fill="#bcc4ce"/></svg>
<div class="a" style="left:483.2px;top:903.4px;width:8.4px;height:102.10000000000002px;background:#c8a3fc;border-radius:4.1px"></div>
<div class="a" style="left:499.7px;top:903.7px;width:36px;height:36px;border-radius:50%;overflow:hidden"><svg width="36" height="36"><rect width="36" height="36" fill="#dfe3e9"/>
<path d="M6 36 Q7 30 18 30 Q29 30 30 36 Z" fill="#e8e8ea"/>
<path d="M12 31 Q18 33.5 24 31 L22 26 L14 26 Z" fill="#e3b093"/>
<path d="M7 22 Q5 6 18 4.5 Q30 5.5 29.5 21 Q29 25.5 25.5 25 L25 15 L11 15 L10.5 25 Q7.5 25.5 7 22 Z" fill="#2b211d"/>
<ellipse cx="17.8" cy="17" rx="7" ry="8.2" fill="#f1c09f"/>
<path d="M10.6 14.5 Q14 8.5 19 9.5 Q24 10 25.2 14.5 Q25.5 8 18 7.3 Q10.5 8 10.6 14.5 Z" fill="#2b211d"/>
<circle cx="15.2" cy="16.4" r="0.9" fill="#2a2222"/><circle cx="20.7" cy="16.4" r="0.9" fill="#2a2222"/>
<ellipse cx="18" cy="20" rx="1" ry="0.8" fill="#e08d86"/>
<circle cx="12" cy="20.5" r="0.9" fill="#b58a3a"/><circle cx="24" cy="20.5" r="0.9" fill="#b58a3a"/>
</svg></div>
<div class="t " style="left:548.0px;top:911.00px;font-size:22px;color:#2f3a48;font-weight:400;letter-spacing:0.15px">Courtney H</div>
<svg class="a" style="left:499.6px;top:980.3px" width="24" height="24" viewBox="0 0 24 24"><circle cx="12" cy="12" r="9.8" fill="none" stroke="#b6bfca" stroke-width="1.5"/><path d="M10.6 7 L10.6 12.4 L14.2 15.4" fill="none" stroke="#b6bfca" stroke-width="1.5" stroke-linecap="round" stroke-linejoin="round"/></svg>
<div class="t " style="left:530.4px;top:984.00px;font-size:18px;color:#b2bbc6;font-weight:400;">15h</div>
<div class="t " style="left:667.2px;top:984.00px;font-size:18px;color:#b2bbc6;font-weight:400;">3</div>
<svg class="a" style="left:684.8px;top:981.8px" width="22" height="22" viewBox="0 0 22 22"><rect x="2.5" y="2.3" width="17" height="18.3" rx="3.2" fill="none" stroke="#b6bfca" stroke-width="1.4"/>
<rect x="2.5" y="6.8" width="17" height="2" fill="#cdd3da"/>
<path d="M7.3 0.4 L7.3 4.3 M14.8 0.4 L14.8 4.3" stroke="#b6bfca" stroke-width="1.4"/><rect x="6.5" y="11.8" width="1.3" height="1.6" fill="#bcc4ce"/><rect x="6.5" y="15.2" width="1.3" height="1.6" fill="#bcc4ce"/><rect x="10.1" y="11.8" width="1.3" height="1.6" fill="#bcc4ce"/><rect x="10.1" y="15.2" width="1.3" height="1.6" fill="#bcc4ce"/><rect x="14.1" y="11.8" width="1.3" height="1.6" fill="#bcc4ce"/><rect x="14.1" y="15.2" width="1.3" height="1.6" fill="#bcc4ce"/></svg>
<div class="a" style="left:483.2px;top:1056.3px;width:8.4px;height:102.10000000000014px;background:#c8a3fc;border-radius:4.1px"></div>
<div class="a" style="left:499.7px;top:1055.9px;width:36px;height:36px;border-radius:50%;overflow:hidden"><svg width="36" height="36"><rect width="36" height="36" fill="#dfe3e9"/>
<path d="M9 36 Q10 30 14 29 L22 29 Q26 30 27 36 Z" fill="#f1c0aa"/>
<path d="M12 36 L13 29.5 L23 29.5 L24 36 Z" fill="#ebe04f"/>
<path d="M8 27 Q6 10 17.7 7.5 Q29 9 27.5 27 L24 27 L23.5 16 L12 16 L11.5 27 Z" fill="#f2d98b"/>
<ellipse cx="17.8" cy="18.6" rx="6.2" ry="7.4" fill="#f3c6b0"/>
<path d="M11.2 16.5 Q13 10 18 10.5 Q23 10 24.3 16.5 Q24.5 8.5 17.8 8.2 Q11 8.5 11.2 16.5 Z" fill="#f0d27b"/>
<circle cx="17.7" cy="6.8" r="2.6" fill="#f4d67a"/>
<circle cx="15.3" cy="18.2" r="1" fill="#5a5050"/><circle cx="20.4" cy="18.2" r="1" fill="#5a5050"/>
<ellipse cx="18" cy="22.3" rx="1.5" ry="0.6" fill="#c99a8e"/>
</svg></div>
<div class="t " style="left:548.0px;top:1064.00px;font-size:22px;color:#2f3a48;font-weight:400;letter-spacing:0.2px">Jenny Wilson</div>
<svg class="a" style="left:499.6px;top:1129.9px" width="24" height="24" viewBox="0 0 24 24"><circle cx="12" cy="12" r="9.8" fill="none" stroke="#b6bfca" stroke-width="1.5"/><path d="M10.6 7 L10.6 12.4 L14.2 15.4" fill="none" stroke="#b6bfca" stroke-width="1.5" stroke-linecap="round" stroke-linejoin="round"/></svg>
<div class="t " style="left:530.4px;top:1133.00px;font-size:18px;color:#b2bbc6;font-weight:400;">10h</div>
<div class="t " style="left:667.2px;top:1133.00px;font-size:18px;color:#b2bbc6;font-weight:400;">2</div>
<svg class="a" style="left:684.8px;top:1131.4px" width="22" height="22" viewBox="0 0 22 22"><rect x="2.5" y="2.3" width="17" height="18.3" rx="3.2" fill="none" stroke="#b6bfca" stroke-width="1.4"/>
<rect x="2.5" y="6.8" width="17" height="2" fill="#cdd3da"/>
<path d="M7.3 0.4 L7.3 4.3 M14.8 0.4 L14.8 4.3" stroke="#b6bfca" stroke-width="1.4"/><rect x="6.5" y="11.8" width="1.3" height="1.6" fill="#bcc4ce"/><rect x="6.5" y="15.2" width="1.3" height="1.6" fill="#bcc4ce"/><rect x="10.1" y="11.8" width="1.3" height="1.6" fill="#bcc4ce"/><rect x="10.1" y="15.2" width="1.3" height="1.6" fill="#bcc4ce"/><rect x="14.1" y="11.8" width="1.3" height="1.6" fill="#bcc4ce"/><rect x="14.1" y="15.2" width="1.3" height="1.6" fill="#bcc4ce"/></svg>
<div class="a" style="left:740.9px;top:581.3px;width:130.9px;height:83px;border:1.5px solid #eef0f3;border-radius:13px;background:#fff;box-sizing:border-box;box-shadow:0 1px 3px rgba(20,30,50,0.04)"></div>
<div class="t " style="left:751.9px;top:594.00px;font-size:22px;color:#2f3a48;font-weight:400;">Pay the<span class=el>...</span></div>
<div class="t " style="left:751.9px;top:630.00px;font-size:22px;color:#64748a;font-weight:400;">8a-12p</div>
<div class="a" style="left:795.35px;top:684.0px;width:22px;height:22px;background:#e4e7eb;border-radius:6px"></div>
<svg class="a" style="left:795.35px;top:684.0px" width="22" height="22" viewBox="0 0 22 22"><path d="M11 6.5 L11 15.5 M6.5 11 L15.5 11" stroke="#b1bac5" stroke-width="1.6"/></svg>
<div class="a" style="left:887.4px;top:581.3px;width:131.09999999999994px;height:83px;border:1.5px solid #eef0f3;border-radius:13px;background:#fff;box-sizing:border-box;box-shadow:0 1px 3px rgba(20,30,50,0.04)"></div>
<div class="t " style="left:898.4px;top:594.00px;font-size:22px;color:#2f3a48;font-weight:400;">Onboar<span class=el>...</span></div>
<div class="t " style="left:898.4px;top:630.00px;font-size:22px;color:#64748a;font-weight:400;">8a-12p</div>
<div class="a" style="left:941.95px;top:684.0px;width:22px;height:22px;background:#e4e7eb;border-radius:6px"></div>
<svg class="a" style="left:941.95px;top:684.0px" width="22" height="22" viewBox="0 0 22 22"><path d="M11 6.5 L11 15.5 M6.5 11 L15.5 11" stroke="#b1bac5" stroke-width="1.6"/></svg>
<div class="a" style="left:1180.8px;top:581.3px;width:131.4px;height:83px;border:1.5px solid #eef0f3;border-radius:13px;background:#fff;box-sizing:border-box;box-shadow:0 1px 3px rgba(20,30,50,0.04)"></div>
<div class="t " style="left:1191.8px;top:594.00px;font-size:22px;color:#2f3a48;font-weight:400;">Plannin<span class=el>...</span></div>
<div class="t " style="left:1191.8px;top:630.00px;font-size:22px;color:#64748a;font-weight:400;">8a-12p</div>
<div class="a" style="left:1235.5px;top:684.0px;width:22px;height:22px;background:#e4e7eb;border-radius:6px"></div>
<svg class="a" style="left:1235.5px;top:684.0px" width="22" height="22" viewBox="0 0 22 22"><path d="M11 6.5 L11 15.5 M6.5 11 L15.5 11" stroke="#b1bac5" stroke-width="1.6"/></svg>
<div class="a" style="left:1327.8px;top:581.3px;width:131.4px;height:83px;border:1.5px solid #eef0f3;border-radius:13px;background:#fff;box-sizing:border-box;box-shadow:0 1px 3px rgba(20,30,50,0.04)"></div>
<div class="t " style="left:1338.8px;top:594.00px;font-size:22px;color:#2f3a48;font-weight:400;">Onboar<span class=el>...</span></div>
<div class="t " style="left:1338.8px;top:630.00px;font-size:22px;color:#64748a;font-weight:400;">8a-12p</div>
<div class="a" style="left:1382.5px;top:684.0px;width:22px;height:22px;background:#e4e7eb;border-radius:6px"></div>
<svg class="a" style="left:1382.5px;top:684.0px" width="22" height="22" viewBox="0 0 22 22"><path d="M11 6.5 L11 15.5 M6.5 11 L15.5 11" stroke="#b1bac5" stroke-width="1.6"/></svg>
<div class="a" style="left:1621.3px;top:581.3px;width:130.9px;height:83px;border:1.5px solid #eef0f3;border-radius:13px;background:#fff;box-sizing:border-box;box-shadow:0 1px 3px rgba(20,30,50,0.04)"></div>
<div class="t " style="left:1632.3px;top:594.00px;font-size:22px;color:#2f3a48;font-weight:400;">Pay the<span class=el>...</span></div>
<div class="t " style="left:1632.3px;top:630.00px;font-size:22px;color:#64748a;font-weight:400;">8a-12p</div>
<div class="a" style="left:1675.75px;top:684.0px;width:22px;height:22px;background:#e4e7eb;border-radius:6px"></div>
<svg class="a" style="left:1675.75px;top:684.0px" width="22" height="22" viewBox="0 0 22 22"><path d="M11 6.5 L11 15.5 M6.5 11 L15.5 11" stroke="#b1bac5" stroke-width="1.6"/></svg>
<div class="a" style="left:887.4px;top:733.8px;width:131.09999999999994px;height:83px;border:1.5px solid #eef0f3;border-radius:13px;background:#fff;box-sizing:border-box;box-shadow:0 1px 3px rgba(20,30,50,0.04)"></div>
<div class="t " style="left:898.4px;top:747.00px;font-size:22px;color:#2f3a48;font-weight:400;">Cleaning</div>
<div class="t " style="left:898.4px;top:782.00px;font-size:22px;color:#64748a;font-weight:400;">10a-12p</div>
<div class="a" style="left:941.45px;top:836.5px;width:22px;height:22px;background:#e4e7eb;border-radius:6px"></div>
<svg class="a" style="left:941.45px;top:836.5px" width="22" height="22" viewBox="0 0 22 22"><path d="M11 6.5 L11 15.5 M6.5 11 L15.5 11" stroke="#b1bac5" stroke-width="1.6"/></svg>
<div class="a" style="left:1180.8px;top:733.8px;width:131.4px;height:83px;border:1.5px solid #eef0f3;border-radius:13px;background:#fff;box-sizing:border-box;box-shadow:0 1px 3px rgba(20,30,50,0.04)"></div>
<div class="t " style="left:1191.8px;top:747.00px;font-size:22px;color:#2f3a48;font-weight:400;">Prepara<span class=el>...</span></div>
<div class="t " style="left:1191.8px;top:782.00px;font-size:22px;color:#64748a;font-weight:400;">8a-12p</div>
<div class="a" style="left:1235.0px;top:836.5px;width:22px;height:22px;background:#e4e7eb;border-radius:6px"></div>
<svg class="a" style="left:1235.0px;top:836.5px" width="22" height="22" viewBox="0 0 22 22"><path d="M11 6.5 L11 15.5 M6.5 11 L15.5 11" stroke="#b1bac5" stroke-width="1.6"/></svg>
<div class="a" style="left:1327.8px;top:733.8px;width:131.4px;height:83px;border:1.5px solid #eef0f3;border-radius:13px;background:#fff;box-sizing:border-box;box-shadow:0 1px 3px rgba(20,30,50,0.04)"></div>
<div class="t " style="left:1338.8px;top:747.00px;font-size:22px;color:#2f3a48;font-weight:400;">Cleaning</div>
<div class="t " style="left:1338.8px;top:782.00px;font-size:22px;color:#64748a;font-weight:400;">10a-12p</div>
<div class="a" style="left:1382.0px;top:836.5px;width:22px;height:22px;background:#e4e7eb;border-radius:6px"></div>
<svg class="a" style="left:1382.0px;top:836.5px" width="22" height="22" viewBox="0 0 22 22"><path d="M11 6.5 L11 15.5 M6.5 11 L15.5 11" stroke="#b1bac5" stroke-width="1.6"/></svg>
<div class="a" style="left:740.9px;top:886.4px;width:130.9px;height:83px;border:1.5px solid #eef0f3;border-radius:13px;background:#fff;box-sizing:border-box;box-shadow:0 1px 3px rgba(20,30,50,0.04)"></div>
<div class="t " style="left:751.9px;top:899.00px;font-size:22px;color:#2f3a48;font-weight:400;">Event s<span class=el>...</span></div>
<div class="t " style="left:751.9px;top:935.00px;font-size:22px;color:#64748a;font-weight:400;">11a-4p</div>
<div class="a" style="left:793.85px;top:989.1px;width:22px;height:22px;background:#e4e7eb;border-radius:6px"></div>
<svg class="a" style="left:793.85px;top:989.1px" width="22" height="22" viewBox="0 0 22 22"><path d="M11 6.5 L11 15.5 M6.5 11 L15.5 11" stroke="#b1bac5" stroke-width="1.6"/></svg>
<div class="a" style="left:887.4px;top:886.4px;width:131.09999999999994px;height:83px;border:1.5px solid #eef0f3;border-radius:13px;background:#fff;box-sizing:border-box;box-shadow:0 1px 3px rgba(20,30,50,0.04)"></div>
<div class="t " style="left:898.4px;top:899.00px;font-size:22px;color:#2f3a48;font-weight:400;">Event s<span class=el>...</span></div>
<div class="t " style="left:898.4px;top:935.00px;font-size:22px;color:#64748a;font-weight:400;">11a-4p</div>
<div class="a" style="left:940.45px;top:989.1px;width:22px;height:22px;background:#e4e7eb;border-radius:6px"></div>
<svg class="a" style="left:940.45px;top:989.1px" width="22" height="22" viewBox="0 0 22 22"><path d="M11 6.5 L11 15.5 M6.5 11 L15.5 11" stroke="#b1bac5" stroke-width="1.6"/></svg>
<div class="a" style="left:1621.3px;top:886.4px;width:130.9px;height:83px;border:1.5px solid #eef0f3;border-radius:13px;background:#fff;box-sizing:border-box;box-shadow:0 1px 3px rgba(20,30,50,0.04)"></div>
<div class="t " style="left:1632.3px;top:899.00px;font-size:22px;color:#2f3a48;font-weight:400;">Event s<span class=el>...</span></div>
<div class="t " style="left:1632.3px;top:935.00px;font-size:22px;color:#64748a;font-weight:400;">11a-4p</div>
<div class="a" style="left:1674.25px;top:989.1px;width:22px;height:22px;background:#e4e7eb;border-radius:6px"></div>
<svg class="a" style="left:1674.25px;top:989.1px" width="22" height="22" viewBox="0 0 22 22"><path d="M11 6.5 L11 15.5 M6.5 11 L15.5 11" stroke="#b1bac5" stroke-width="1.6"/></svg>
<div class="a" style="left:1180.8px;top:1038.7px;width:131.4px;height:83px;border:1.5px solid #eef0f3;border-radius:13px;background:#fff;box-sizing:border-box;box-shadow:0 1px 3px rgba(20,30,50,0.04)"></div>
<div class="t " style="left:1191.8px;top:1052.00px;font-size:22px;color:#2f3a48;font-weight:400;">Event s<span class=el>...</span></div>
<div class="t " style="left:1191.8px;top:1087.00px;font-size:22px;color:#64748a;font-weight:400;">11a-4p</div>
<div class="a" style="left:1233.5px;top:1141.4px;width:22px;height:22px;background:#e4e7eb;border-radius:6px"></div>
<svg class="a" style="left:1233.5px;top:1141.4px" width="22" height="22" viewBox="0 0 22 22"><path d="M11 6.5 L11 15.5 M6.5 11 L15.5 11" stroke="#b1bac5" stroke-width="1.6"/></svg>
<div class="a" style="left:1327.8px;top:1038.7px;width:131.4px;height:83px;border:1.5px solid #eef0f3;border-radius:13px;background:#fff;box-sizing:border-box;box-shadow:0 1px 3px rgba(20,30,50,0.04)"></div>
<div class="t " style="left:1338.8px;top:1052.00px;font-size:22px;color:#2f3a48;font-weight:400;">Event s<span class=el>...</span></div>
<div class="t " style="left:1338.8px;top:1087.00px;font-size:22px;color:#64748a;font-weight:400;">11a-4p</div>
<div class="a" style="left:1380.5px;top:1141.4px;width:22px;height:22px;background:#e4e7eb;border-radius:6px"></div>
<svg class="a" style="left:1380.5px;top:1141.4px" width="22" height="22" viewBox="0 0 22 22"><path d="M11 6.5 L11 15.5 M6.5 11 L15.5 11" stroke="#b1bac5" stroke-width="1.6"/></svg>
<div class="a" style="left:500px;top:1207.4px;width:26.5px;height:26.5px;border:1.6px solid #f55f5f;border-radius:6px;background:#fff4ef;box-sizing:border-box"></div>
<svg class="a" style="left:500px;top:1207.4px" width="26.5" height="26.5" viewBox="0 0 26.5 26.5"><path d="M7 13.5 L11.2 18.2 L19.8 8.6" fill="none" stroke="#f55353" stroke-width="2" stroke-linecap="round" stroke-linejoin="round"/></svg>
<div class="t " style="left:539.5px;top:1211.00px;font-size:19px;color:#374151;font-weight:400;letter-spacing:0.2px">Time off</div>
<div class="a" style="left:646.2px;top:1207.4px;width:26.5px;height:26.5px;border:1.6px solid #6f7d8e;border-radius:6px;background:#f1f2f4;box-sizing:border-box"></div>
<div class="t " style="left:685.6px;top:1211.00px;font-size:19px;color:#374151;font-weight:400;">Working elsewhere</div>
<div class="a" style="left:1680px;top:274px;width:80px;height:983px;background:linear-gradient(90deg,rgba(240,242,245,0),rgba(240,242,245,0.35));border-radius:0 22px 22px 0"></div>
<div class="a" style="left:851.8px;top:586.3px;width:15px;height:15px;border-radius:50%;background:#8e9aab"></div>
<div class="a" style="left:998.5px;top:586.3px;width:15px;height:15px;border-radius:50%;background:#8e9aab"></div>
<div class="a" style="left:1292.2px;top:586.3px;width:15px;height:15px;border-radius:50%;background:#8e9aab"></div>
<div class="a" style="left:1439.2px;top:586.3px;width:15px;height:15px;border-radius:50%;background:#8e9aab"></div>
<div class="a" style="left:1732.2px;top:586.3px;width:15px;height:15px;border-radius:50%;background:#8e9aab"></div>
<div class="a" style="left:998.5px;top:738.8px;width:15px;height:15px;border-radius:50%;background:#8e9aab"></div>
<div class="a" style="left:1292.2px;top:738.8px;width:15px;height:15px;border-radius:50%;background:#8e9aab"></div>
<div class="a" style="left:1439.2px;top:738.8px;width:15px;height:15px;border-radius:50%;background:#8e9aab"></div>
<div class="a" style="left:851.8px;top:891.4px;width:15px;height:15px;border-radius:50%;background:#8e9aab"></div>
<div class="a" style="left:998.5px;top:891.4px;width:15px;height:15px;border-radius:50%;background:#8e9aab"></div>
<div class="a" style="left:1732.2px;top:891.4px;width:15px;height:15px;border-radius:50%;background:#8e9aab"></div>
<div class="a" style="left:1292.2px;top:1043.7px;width:15px;height:15px;border-radius:50%;background:#8e9aab"></div>
<div class="a" style="left:1439.2px;top:1043.7px;width:15px;height:15px;border-radius:50%;background:#8e9aab"></div>
<div class="a" style="left:1687px;top:1139px;width:72px;height:72px;border-radius:50%;background:#fda54f;box-shadow:0 6px 18px rgba(253,165,79,0.28)"></div>
<svg class="a" style="left:1708px;top:1155px" width="30" height="40" viewBox="0 0 30 40"><g transform="translate(-1708,-1155)">
<path d="M1712.3 1171.5 Q1712.3 1185.5 1723 1185.5 Q1733.7 1185.5 1733.7 1171.5" fill="none" stroke="#fec990" stroke-width="1.6"/>
<path d="M1723 1185.5 L1723 1190.5" stroke="#fec990" stroke-width="1.6"/>
<rect x="1716.2" y="1160.3" width="13.6" height="21.2" rx="6.8" fill="#fff"/>
<path d="M1720.4 1166.5 L1725.6 1166.5 L1724.8 1168 L1721.2 1168 Z" fill="#fda54f"/>
<rect x="1721.2" y="1169.2" width="3.6" height="1.4" fill="#fda54f"/>
</g></svg>
</body></html>
